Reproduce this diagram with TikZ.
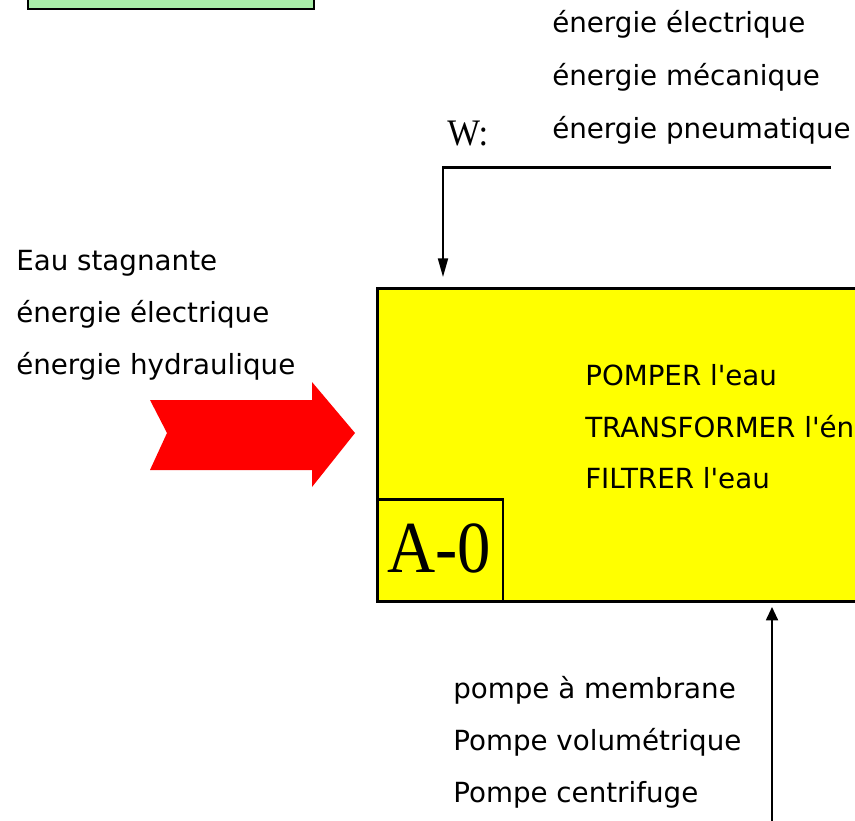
\documentclass[tikz,border=0pt]{standalone}
\usepackage{fontspec}
\usetikzlibrary{arrows.meta}
\newfontfamily\vfont{DejaVu Sans}
\newfontfamily\tfont{Liberation Serif}
\definecolor{lgreen}{RGB}{168,238,168}
\definecolor{pyellow}{RGB}{255,255,0}
\definecolor{pred}{RGB}{255,0,0}
\tikzset{
  lbl/.style={anchor=base west, inner sep=0pt, font=\vfont\fontsize{20.8pt}{24pt}\selectfont},
  conn/.style={line width=1.4pt},
}
\begin{document}
\begin{tikzpicture}[x=0.75pt,y=-0.75pt]
\useasboundingbox (0,0) rectangle (855,820);
\clip (0,0) rectangle (855,820);
% green box (cut at top)
\node[draw, fill=lgreen, line width=1.5pt, anchor=south west, minimum width=214.5pt, minimum height=40pt, inner sep=0pt] (green) at (27,10) {};
% top labels
\node[lbl] (t1) at (552,33) {énergie électrique};
\node[lbl] (t2) at (552,86) {énergie mécanique};
\node[lbl] (t3) at (552,138) {énergie pneumatique};
\node[anchor=base west, inner sep=0pt, font=\tfont\fontsize{26pt}{30pt}\selectfont] (w) at (447,145) {\scalebox{1}[1.08]{W:}};
% left labels
\node[lbl] (l1) at (16,270) {Eau stagnante};
\node[lbl] (l2) at (16,322) {énergie électrique};
\node[lbl] (l3) at (16,374) {énergie hydraulique};
% main box
\node[draw, fill=pyellow, line width=2.25pt, anchor=north west, minimum width=468pt, minimum height=234.75pt, inner sep=0pt] (box) at (376,286.5) {};
\node[draw, line width=1.8pt, anchor=south west, minimum width=94.5pt, minimum height=76.5pt, inner sep=0pt] (a0) at (box.south west) {};
\node[anchor=base west, inner sep=0pt, font=\tfont\fontsize{50pt}{56pt}\selectfont] (a0t) at (387,572) {\scalebox{1}[1.1]{A-0}};
% inner labels
\node[lbl] (i1) at (585,385) {POMPER l'eau};
\node[lbl] (i2) at (585,437) {TRANSFORMER l'énergie};
\node[lbl] (i3) at (585,488) {FILTRER l'eau};
% bottom labels
\node[lbl] (b1) at (453,698) {pompe à membrane};
\node[lbl] (b2) at (453,750) {Pompe volumétrique};
\node[lbl] (b3) at (453,802) {Pompe centrifuge};
% control arrow
\coordinate (wstart) at (831,167.5);
\coordinate (wcorner) at (443,167.5);
\coordinate (wend) at (443,277);
\draw[line width=2.25pt] (wstart) -- ([xshift=-0.6pt]wcorner);
\draw[conn, -{Triangle[length=14pt,width=7.5pt]}] (wcorner) -- (wend);
% mechanism arrow
\coordinate (mstart) at (772,830);
\coordinate (mend) at (772,607);
\draw[conn, -{Triangle[length=10pt,width=9pt]}] (mstart) -- (mend);
% red input arrow
\fill[pred] (150,400) -- (312,400) -- (312,382) -- (355,433) -- (312,487) -- (312,470) -- (150,470) -- (167,433) -- cycle;
\end{tikzpicture}
\end{document}
